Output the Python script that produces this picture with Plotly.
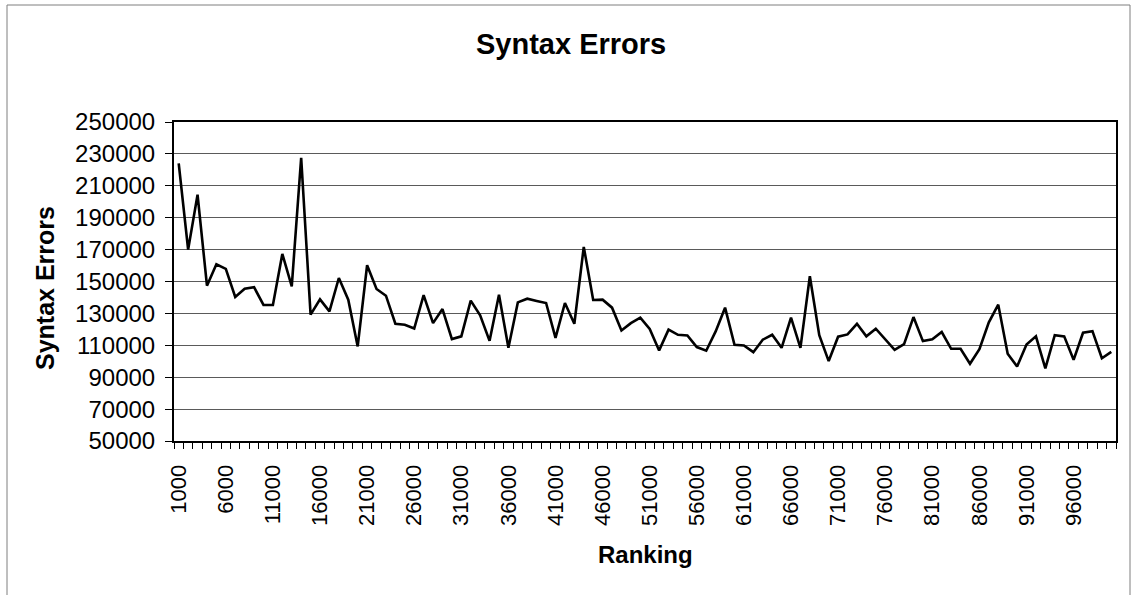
import plotly.graph_objects as go

# Ranking buckets (every 1000 sites) and number of syntax errors in each
ranking = list(range(1000, 100001, 1000))
syntax_errors = [
    224000, 170000, 204400, 147400, 160800, 157900, 140300, 145500, 146400, 135300,
    135300, 167300, 147000, 227600, 129200, 138800, 131300, 152200, 138600, 109300,
    160200, 145300, 141100, 123500, 122900, 120500, 141500, 123900, 132700, 113900,
    115600, 138000, 128800, 112800, 141700, 108400, 136900, 139200, 137800, 136500,
    114700, 136500, 123500, 171700, 138400, 138600, 133600, 119300, 123900, 127300,
    120200, 106800, 119800, 116600, 116200, 108900, 106600, 118700, 133600, 110300,
    109900, 105700, 113500, 116600, 108400, 127300, 108400, 153300, 116400, 100100,
    115400, 116800, 123500, 115600, 120400, 113900, 107200, 110700, 127700, 112600,
    113700, 118300, 107800, 107800, 98400, 107600, 124400, 135500, 104700, 96700,
    110500, 115600, 95500, 116400, 115600, 100900, 117900, 118900, 101900, 105900,
]
x_tick_values = ranking[::5]

W, H = 1135, 595
L, R, T, B = 174, 1116, 122, 441
FONT = "Arial, Liberation Sans, sans-serif"


def px_x(p):
    return (p - L) / (R - L)


def px_y(p):
    return (B - p) / (B - T)


fig = go.Figure(
    go.Scatter(
        x=ranking,
        y=syntax_errors,
        mode="lines",
        line=dict(color="black", width=2.6),
        showlegend=False,
    )
)

fig.update_layout(
    width=W,
    height=H,
    margin=dict(l=L, r=W - R, t=T, b=H - B),
    paper_bgcolor="white",
    plot_bgcolor="white",
    font=dict(family=FONT, color="black"),
    xaxis=dict(
        range=[500, 100500],
        tickmode="array",
        tickvals=x_tick_values,
        ticktext=[str(v) for v in x_tick_values],
        tickangle=-90,
        ticks="",
        ticklabelstandoff=13,
        tickfont=dict(size=22, family=FONT),
        showgrid=False,
        zeroline=False,
        showline=True,
        linecolor="black",
        linewidth=2,
        mirror=True,
        minor=dict(tick0=500, dtick=1000, ticks="outside", ticklen=6,
                   tickcolor="black", tickwidth=1, showgrid=False),
    ),
    yaxis=dict(
        range=[50000, 250000],
        tick0=50000,
        dtick=20000,
        tickformat="d",
        ticks="outside",
        ticklen=7,
        tickcolor="black",
        ticklabelstandoff=5,
        tickfont=dict(size=24, family=FONT),
        showgrid=True,
        gridcolor="#5a5a5a",
        gridwidth=1,
        zeroline=False,
        showline=True,
        linecolor="black",
        linewidth=2,
        mirror=True,
    ),
    annotations=[
        dict(text="<b>Syntax Errors</b>", x=px_x(571), y=px_y(44), xref="paper", yref="paper",
             showarrow=False, xanchor="center", yanchor="middle",
             font=dict(size=29, family=FONT)),
        dict(text="<b>Syntax Errors</b>", x=px_x(45), y=px_y(288), xref="paper", yref="paper",
             showarrow=False, xanchor="center", yanchor="middle", textangle=-90,
             font=dict(size=25, family=FONT)),
        dict(text="<b>Ranking</b>", x=px_x(645), y=px_y(554), xref="paper", yref="paper",
             showarrow=False, xanchor="center", yanchor="middle",
             font=dict(size=24, family=FONT)),
    ],
    shapes=[
        dict(type="rect", xref="paper", yref="paper",
             x0=px_x(7), x1=px_x(1130), y0=px_y(5), y1=px_y(610),
             line=dict(color="#7f7f7f", width=1), fillcolor="rgba(0,0,0,0)", layer="below"),
    ],
)

fig.write_html("out.html")
